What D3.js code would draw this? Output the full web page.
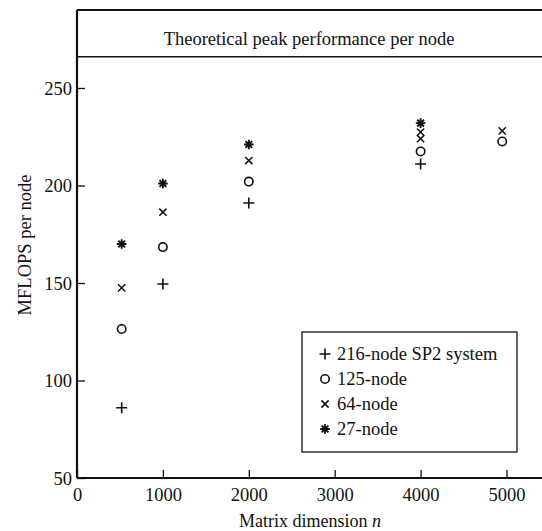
<!DOCTYPE html>
<html><head><meta charset="utf-8">
<script src="https://cdn.jsdelivr.net/npm/d3@7"></script>
<style>body{margin:0;background:#fff}svg{display:block}text{font-family:"Liberation Serif","Times New Roman",serif;fill:#111}</style>
</head><body><svg id="c" width="542" height="531"></svg>
<script>
// ---- data ----
const seriesNames = ["216-node SP2 system", "125-node", "64-node", "27-node"];
const seriesSymbols = ["plus", "circle", "cross", "star"];
const sp2_216 = [[520, 86], [1000, 149.5], [2000, 191], [4000, 211]];
const node125 = [[520, 126.4], [1000, 168.4], [2000, 202], [4000, 217.5], [4950, 222.6]];
const node64 = [[520, 147.5], [1000, 186.3], [2000, 212.8], [4000, 224], [4000, 227.4], [4950, 228]];
const node27 = [[520, 170], [1000, 201], [2000, 221], [4000, 232]];
const xTicks = [0, 1000, 2000, 3000, 4000, 5000];
const yTicks = [50, 100, 150, 200, 250];
const peakValue = 266;
const peakLabel = "Theoretical peak performance per node";
const xTitle = "Matrix dimension ";
const xTitleVar = "n";
const yTitle = "MFLOPS per node";

const allSeries = [sp2_216, node125, node64, node27];

const svg = d3.select("#c");
const x = d3.scaleLinear().domain([0, 5500]).range([77, 77 + 5500 * 0.0859]);
const y = d3.scaleLinear().domain([50, 290]).range([478, 10]);

// header band (peak line) and frame
svg.append("line").attr("x1", x(0)).attr("x2", 542).attr("y1", y(290)).attr("y2", y(290))
  .attr("stroke", "#111").attr("stroke-width", 2);
svg.append("line").attr("x1", x(0)).attr("x2", 542).attr("y1", y(peakValue)).attr("y2", y(peakValue))
  .attr("stroke", "#111").attr("stroke-width", 1.6);
svg.append("text").attr("x", 309).attr("y", 45).attr("text-anchor", "middle")
  .style("font-size", "18.5px").text(peakLabel);

// axes
const xAxis = d3.axisBottom(x).tickValues(xTicks).tickFormat(d3.format("d")).tickSizeInner(-8).tickSizeOuter(0).tickPadding(12);
const yAxis = d3.axisLeft(y).tickValues(yTicks).tickFormat(d3.format("d")).tickSizeInner(-8).tickSizeOuter(0).tickPadding(5);
const gx = svg.append("g").attr("transform", `translate(0,${y(50)})`).call(xAxis);
const gy = svg.append("g").attr("transform", `translate(${x(0)},0)`).call(yAxis);
[gx, gy].forEach(g => {
  g.select(".domain").attr("stroke", "#111").attr("stroke-width", 2.2);
  g.selectAll(".tick line").attr("stroke", "#111").attr("stroke-width", 1.3);
  g.selectAll(".tick text").style("font-size", "18.5px").style("font-family", "'Liberation Serif',serif").attr("fill", "#111");
});
gx.select(".domain").attr("d", `M${x(0)},0H542`);
gy.select(".domain").attr("d", `M0,${y(50)}V${y(290)}`);
gy.selectAll(".tick text").attr("dy", "0.33em");
gx.selectAll(".tick text").attr("dy", "0.6em");

// axis titles
const xt = svg.append("text").attr("x", 310).attr("y", 527).attr("text-anchor", "middle").style("font-size", "18px");
xt.append("tspan").text(xTitle);
xt.append("tspan").style("font-style", "italic").text(xTitleVar);
svg.append("text").attr("transform", `translate(31,245) rotate(-90)`).attr("text-anchor", "middle")
  .style("font-size", "18.5px").text(yTitle);

// symbols
function drawSymbol(g, kind) {
  if (kind === "plus") {
    g.append("path").attr("d", "M-5.5,0H5.5M0,-5.5V5.5").attr("stroke", "#111").attr("stroke-width", 1.6).attr("fill", "none");
  } else if (kind === "circle") {
    g.append("circle").attr("r", 4.2).attr("stroke", "#111").attr("stroke-width", 1.6).attr("fill", "none");
  } else if (kind === "cross") {
    g.append("path").attr("d", "M-3.6,-3.6L3.6,3.6M-3.6,3.6L3.6,-3.6").attr("stroke", "#111").attr("stroke-width", 1.5).attr("fill", "none");
  } else {
    const r = 4.8;
    let d = "";
    for (let k = 0; k < 4; k++) {
      const a = k * Math.PI / 4;
      d += `M${(-r * Math.cos(a)).toFixed(2)},${(-r * Math.sin(a)).toFixed(2)}L${(r * Math.cos(a)).toFixed(2)},${(r * Math.sin(a)).toFixed(2)}`;
    }
    g.append("path").attr("d", d).attr("stroke", "#111").attr("stroke-width", 1.9).attr("fill", "none");
  }
}

allSeries.forEach((data, i) => {
  svg.append("g").selectAll("g").data(data).join("g")
    .attr("transform", d => `translate(${x(d[0])},${y(d[1])})`)
    .each(function () { drawSymbol(d3.select(this), seriesSymbols[i]); });
});

// legend
const lg = svg.append("g");
lg.append("rect").attr("x", 302).attr("y", 332).attr("width", 215).attr("height", 120)
  .attr("fill", "#fff").attr("stroke", "#111").attr("stroke-width", 1.3);
seriesNames.forEach((name, i) => {
  const cy = 354 + i * 25;
  const g = lg.append("g").attr("transform", `translate(325,${cy})`);
  drawSymbol(g, seriesSymbols[i]);
  lg.append("text").attr("x", 337).attr("y", cy).attr("dy", "0.33em").style("font-size", "18.5px").text(name);
});
</script></body></html>
